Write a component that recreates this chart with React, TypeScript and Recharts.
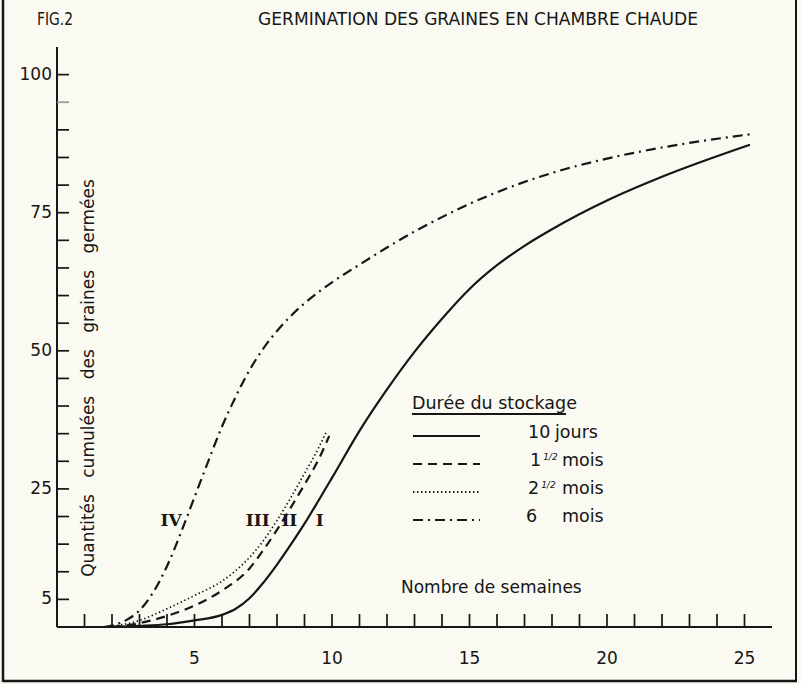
import React from 'react';
import { LineChart, Line, XAxis, YAxis, ReferenceDot } from 'recharts';

// ---- data (weeks -> cumulative % germinated) ----
const weeksI = [2, 3, 4, 5, 6, 6.5, 7, 7.5, 8, 8.5, 9, 9.5, 10, 11, 12, 13, 14, 15, 16, 17, 18, 20, 22, 25.2];
const valuesI = [0, 0.2, 0.5, 1.2, 2.2, 3.3, 5.2, 8, 11.3, 14.9, 18.7, 22.8, 27, 35.5, 43, 49.8, 55.8, 61.2, 65.5, 69, 72, 77.2, 81.5, 87.3];

const weeksII = [2, 3, 4, 5, 6, 7, 7.5, 8, 8.5, 9, 9.5, 9.9];
const valuesII = [0, 0.7, 2, 3.9, 6.6, 10.6, 13.9, 17.6, 21.6, 25.8, 30.2, 34.6];

const weeksIII = [1.9, 3, 4, 5, 6, 6.5, 7, 7.5, 8, 8.5, 9, 9.5, 9.8];
const valuesIII = [0, 1.2, 3.3, 5.7, 8.3, 10.2, 12.6, 15.6, 19.3, 23.4, 27.8, 32.3, 35.4];

const weeksIV = [1.7, 2.5, 3, 3.5, 4, 4.5, 5, 5.5, 6, 6.5, 7, 7.5, 8, 8.5, 9, 9.5, 10, 11, 12, 13, 14, 15, 16, 18, 20, 22, 25.2];
const valuesIV = [0, 1.2, 3, 6.3, 11, 17, 23.5, 30, 36.3, 41.7, 46.5, 50.4, 53.6, 56.3, 58.6, 60.6, 62.4, 65.6, 68.7, 71.6, 74.2, 76.6, 78.7, 82.2, 84.8, 86.8, 89.2];

const xTicks = [1, 2, 3, 4, 5, 6, 7, 8, 9, 10, 11, 12, 13, 14, 15, 16, 17, 18, 19, 20, 21, 22, 23, 24, 25];
const xTickLabels = [5, 10, 15, 20, 25];
const yTicks = [5, 10, 15, 20, 25, 30, 35, 40, 45, 50, 55, 60, 65, 70, 75, 80, 85, 90, 95, 100];
const yTickLabels = [5, 25, 50, 75, 100];

const romanLabels = ['I', 'II', 'III', 'IV'];
const romanWeeks = [9.55, 8.45, 7.3, 4.15];
const romanValues = [19.5, 19.5, 19.5, 19.5];

const legendTitle = 'Durée du stockage';
const legendNumbers = ['10', '1', '2', '6'];
const legendFractions = ['', '1/2', '1/2', ''];
const legendUnits = ['jours', 'mois', 'mois', 'mois'];

const toSeries = (w: number[], v: number[]) => w.map((x, i) => ({ w: x, v: v[i] }));
const seriesI = toSeries(weeksI, valuesI);
const seriesII = toSeries(weeksII, valuesII);
const seriesIII = toSeries(weeksIII, valuesIII);
const seriesIV = toSeries(weeksIV, valuesIV);

const INK = '#161614';
const PAPER = '#faf9f2';
const FONT = '"DejaVu Sans", sans-serif';

const DASH_II = '9 6';
const DOT_III = '1.4 2.6';
const DASHDOT_IV = '10 5 2 5';

const XTick = (props: any) => {
  const { x, y, payload } = props;
  const v = payload.value;
  return (
    <g>
      <line x1={x} x2={x} y1={y} y2={y - 13} stroke={INK} strokeWidth={1.7} />
      {xTickLabels.includes(v) && (
        <text x={x} y={y + 37} textAnchor="middle" fontFamily={FONT} fontSize={17} fill={INK}>
          {v}
        </text>
      )}
    </g>
  );
};

const YTick = (props: any) => {
  const { x, y, payload } = props;
  const v = payload.value;
  return (
    <g>
      <line x1={x} x2={x + 12} y1={y} y2={y} stroke={v === 95 ? '#999' : INK} strokeWidth={1.7} />
      {yTickLabels.includes(v) && (
        <text x={x - 5} y={y + 5} textAnchor="end" fontFamily={FONT} fontSize={17} fill={INK}>
          {v}
        </text>
      )}
    </g>
  );
};

const romanLabel = (text: string) => (p: any) => {
  const vb = p.viewBox || {};
  const cx = (vb.x ?? 0) + (vb.width ?? 0) / 2;
  const cy = (vb.y ?? 0) + (vb.height ?? 0) / 2;
  return (
    <text x={cx} y={cy + 7} textAnchor="middle" fontFamily='"DejaVu Serif", "Liberation Serif", serif' fontWeight="bold" fontSize={17} fill={INK}>
      {text}
    </text>
  );
};

export default function App() {
  const legendRowsY = [432, 460, 488, 516];
  const legendDash = ['', DASH_II, DOT_III, DASHDOT_IV];
  const legendNumX = [528, 530, 528, 526];
  return (
    <div style={{ position: 'absolute', left: 0, top: 0, width: 801, height: 684, background: PAPER, overflow: 'hidden' }}>
      <LineChart width={801} height={684} margin={{ top: 47, right: 29, bottom: 27, left: 7 }}>
        <XAxis
          type="number"
          dataKey="w"
          domain={[0, 26]}
          ticks={xTicks}
          interval={0}
          tick={<XTick />}
          tickLine={false}
          tickSize={0}
          tickMargin={0}
          height={30}
          axisLine={{ stroke: INK, strokeWidth: 2 }}
          allowDataOverflow
        />
        <YAxis
          type="number"
          dataKey="v"
          domain={[0, 105]}
          ticks={yTicks}
          interval={0}
          tick={<YTick />}
          tickLine={false}
          tickSize={0}
          tickMargin={0}
          width={50}
          axisLine={{ stroke: INK, strokeWidth: 2 }}
          allowDataOverflow
        />
        <Line data={seriesI} dataKey="v" type="monotone" stroke={INK} strokeWidth={2.2} dot={false} isAnimationActive={false} />
        <Line data={seriesII} dataKey="v" type="monotone" stroke={INK} strokeWidth={2.2} strokeDasharray={DASH_II} dot={false} isAnimationActive={false} />
        <Line data={seriesIII} dataKey="v" type="monotone" stroke={INK} strokeWidth={1.7} strokeDasharray={DOT_III} dot={false} isAnimationActive={false} />
        <Line data={seriesIV} dataKey="v" type="monotone" stroke={INK} strokeWidth={2.2} strokeDasharray={DASHDOT_IV} dot={false} isAnimationActive={false} />
        {romanLabels.map((t, i) => (
          <ReferenceDot key={t} x={romanWeeks[i]} y={romanValues[i]} r={0} stroke="none" fill="none" label={romanLabel(t)} />
        ))}
      </LineChart>
      <svg width={801} height={684} style={{ position: 'absolute', left: 0, top: 0, pointerEvents: 'none' }}>
        {/* frame */}
        <line x1={3} y1={0} x2={3} y2={682} stroke={INK} strokeWidth={2.5} />
        <line x1={3} y1={681} x2={797} y2={681} stroke={INK} strokeWidth={2.5} />
        <line x1={796} y1={0} x2={796} y2={682} stroke={INK} strokeWidth={2} />
        {/* titles */}
        <text x={37} y={25} fontFamily={FONT} fontSize={17} fill={INK} textLength={36} lengthAdjust="spacingAndGlyphs">FIG.2</text>
        <text x={258} y={25} fontFamily={FONT} fontSize={18} fill={INK} textLength={440} lengthAdjust="spacingAndGlyphs">
          GERMINATION DES GRAINES EN CHAMBRE CHAUDE
        </text>
        {/* y label */}
        <text
          x={0}
          y={0}
          transform="translate(94,378) rotate(-90)"
          textAnchor="middle"
          fontFamily={FONT}
          fontSize={17}
          fill={INK}
          style={{ wordSpacing: '11px' }}
        >
          Quantités cumulées des graines germées
        </text>
        {/* x label */}
        <text x={401} y={593} fontFamily={FONT} fontSize={17} fill={INK}>Nombre de semaines</text>
        {/* legend */}
        <text x={412} y={409} fontFamily={FONT} fontSize={17.5} fill={INK}>{legendTitle}</text>
        <line x1={412} x2={566} y1={414} y2={414} stroke={INK} strokeWidth={1.8} />
        {legendRowsY.map((ry, i) => (
          <g key={i}>
            <line x1={413} x2={480} y1={ry + 4} y2={ry + 4} stroke={INK} strokeWidth={2} strokeDasharray={legendDash[i] || undefined} />
            <text x={legendNumX[i]} y={ry + 6} fontFamily={FONT} fontSize={17.5} fill={INK}>
              {legendNumbers[i]}
              {legendFractions[i] && (
                <tspan fontSize={9} dx={2} dy={-6} fontStyle="italic">{legendFractions[i]}</tspan>
              )}
            </text>
            <text x={i === 0 ? 555 : 562} y={ry + 6} fontFamily={FONT} fontSize={17.5} fill={INK}>{legendUnits[i]}</text>
          </g>
        ))}
      </svg>
    </div>
  );
}
